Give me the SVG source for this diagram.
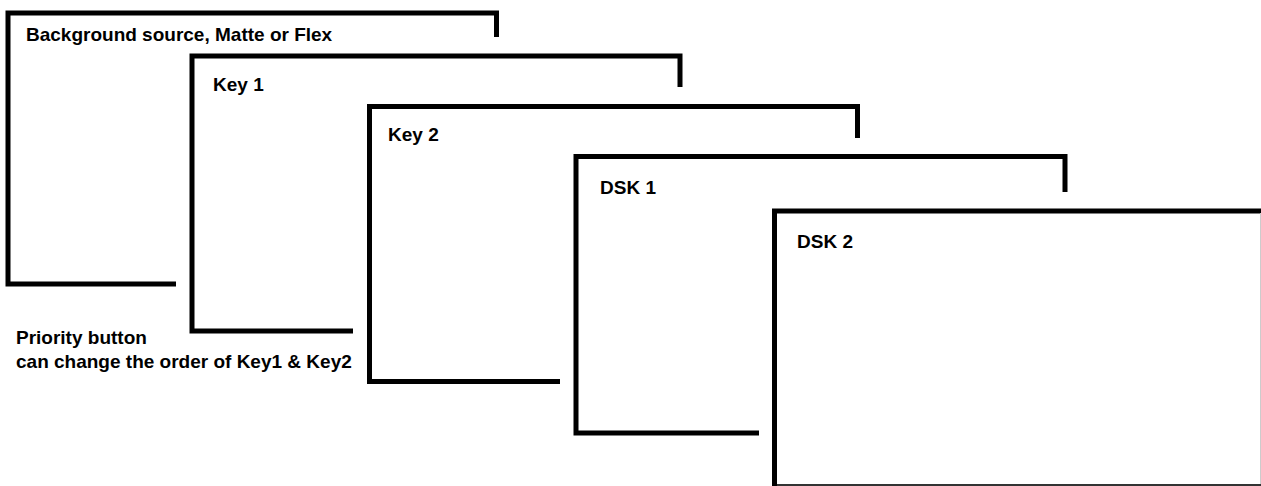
<svg xmlns="http://www.w3.org/2000/svg" width="1261" height="486" viewBox="0 0 1261 486">
<style>
.frame{fill:none;stroke:#000;stroke-width:5;stroke-linejoin:miter;stroke-linecap:butt}
.lbl{font-family:"Liberation Sans",Arial,sans-serif;font-weight:bold;font-size:19px;fill:#000}
</style>
<rect x="0" y="0" width="1261" height="486" fill="#fff"/>
<g id="background">
<path class="frame" d="M176,284 H8 V13 H496.5 V37"/>
<text class="lbl" x="26" y="41">Background source, Matte or Flex</text>
</g>
<g id="key1">
<path class="frame" d="M353,331 H192 V56 H680 V87"/>
<text class="lbl" x="213" y="91">Key 1</text>
</g>
<g id="key2">
<path class="frame" d="M560,381.5 H369.5 V106.5 H857.5 V138"/>
<text class="lbl" x="388" y="141">Key 2</text>
</g>
<g id="dsk1">
<path class="frame" d="M759,433 H576 V156.5 H1065 V192"/>
<text class="lbl" x="600" y="194">DSK 1</text>
</g>
<g id="dsk2">
<path class="frame" d="M774.5,486 V211 H1261"/>
<line x1="777" y1="485" x2="1261" y2="485" stroke="#333" stroke-width="2"/>
<line x1="1260.5" y1="213" x2="1260.5" y2="484" stroke="#ccc" stroke-width="1"/>
<text class="lbl" x="797" y="248">DSK 2</text>
</g>
<g id="note">
<text class="lbl" x="16" y="344">Priority button</text>
<text class="lbl" x="16" y="367.5">can change the order of Key1 &amp; Key2</text>
</g>
<g id="connectors"/>
</svg>
